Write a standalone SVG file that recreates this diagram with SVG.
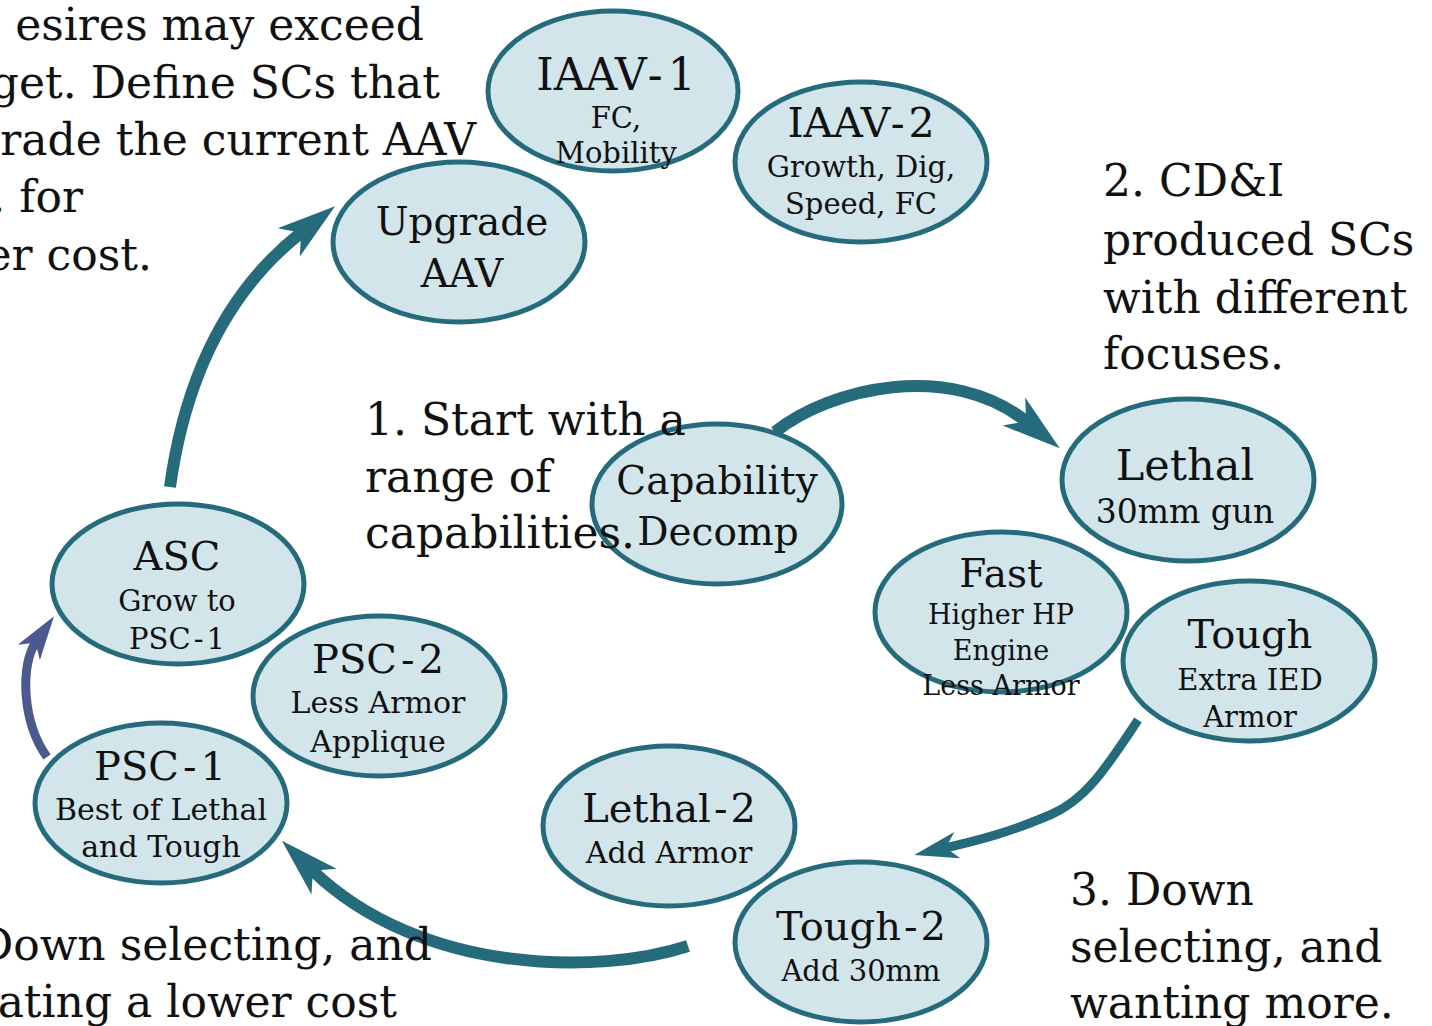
<svg xmlns="http://www.w3.org/2000/svg" width="1432" height="1026" viewBox="0 0 1432 1026">
<defs>
<style>
.node ellipse{fill:#d2e5eb;stroke:#266b7b;stroke-width:5}
text{font-family:"DejaVu Serif","Liberation Serif",serif;fill:#111}
.node text{text-anchor:middle}
.ann{font-size:44px}
.conn{fill:none;stroke:#266b7b;stroke-width:12;marker-end:url(#ah)}
.conn.thin{stroke-width:9}
.conn.blue{stroke:#4a5a8d;marker-end:url(#ahb)}
</style>
<marker id="ah" viewBox="-5 -1.6 5 3.2" refX="-3.5" refY="0" markerWidth="5" markerHeight="3.2" orient="auto" markerUnits="strokeWidth">
<path d="M0,0 L-4.9,-1.5 L-3.6,0 L-4.9,1.5 Z" fill="#266b7b"/>
</marker>
<marker id="ahb" viewBox="-5 -1.6 5 3.2" refX="-3.5" refY="0" markerWidth="5" markerHeight="3.2" orient="auto" markerUnits="strokeWidth">
<path d="M0,0 L-4.9,-1.5 L-3.6,0 L-4.9,1.5 Z" fill="#4a5a8d"/>
</marker>
</defs>
<rect width="1432" height="1026" fill="#ffffff"/>

<g id="connectors">
<path class="conn" d="M775,432 C830,388 950,360 1027,422"/>
<path class="conn thin" d="M1138,720 C1105,770 1085,800 1050,815 C1010,832 980,840 945,848"/>
<path class="conn" d="M688,946 C600,975 420,975 312,870"/>
<path class="conn" d="M170,487 C182,400 215,300 302,232"/>
<path class="conn thin blue" d="M47,757 C22,722 20,665 36,642"/>
</g>

<g id="node-iaav1" class="node">
<ellipse cx="613" cy="91" rx="125" ry="80"/>
<text x="616" y="90" font-size="44">IAAV<tspan dx="5">-</tspan><tspan dx="5">1</tspan></text>
<text x="616" y="128" font-size="29">FC,</text>
<text x="616" y="163" font-size="29">Mobility</text>
</g>

<g id="node-iaav2" class="node">
<ellipse cx="861" cy="162" rx="126" ry="80"/>
<text x="861" y="137" font-size="41">IAAV<tspan dx="4">-</tspan><tspan dx="4">2</tspan></text>
<text x="861" y="177" font-size="29">Growth, Dig,</text>
<text x="861" y="214" font-size="29">Speed, FC</text>
</g>

<g id="node-upgrade" class="node">
<ellipse cx="459" cy="242" rx="126" ry="80"/>
<text x="462" y="235" font-size="39">Upgrade</text>
<text x="462" y="287" font-size="39">AAV</text>
</g>

<g id="node-capability" class="node">
<ellipse cx="717" cy="504" rx="125" ry="80"/>
<text x="717" y="494" font-size="39">Capability</text>
<text x="718" y="545" font-size="39">Decomp</text>
</g>

<g id="node-lethal" class="node">
<ellipse cx="1188" cy="480" rx="126" ry="81"/>
<text x="1185" y="480" font-size="43">Lethal</text>
<text x="1185" y="523" font-size="33">30mm gun</text>
</g>

<g id="node-fast" class="node">
<ellipse cx="1001" cy="612" rx="126" ry="80"/>
<text x="1001" y="587" font-size="39">Fast</text>
<text x="1001" y="624" font-size="27">Higher HP</text>
<text x="1001" y="660" font-size="27">Engine</text>
<text x="1001" y="695" font-size="27">Less Armor</text>
</g>

<g id="node-tough" class="node">
<ellipse cx="1249" cy="661" rx="126" ry="80"/>
<text x="1250" y="648" font-size="40">Tough</text>
<text x="1250" y="690" font-size="29">Extra IED</text>
<text x="1250" y="727" font-size="29">Armor</text>
</g>

<g id="node-asc" class="node">
<ellipse cx="178" cy="584" rx="126" ry="80"/>
<text x="177" y="570" font-size="40">ASC</text>
<text x="177" y="611" font-size="29">Grow to</text>
<text x="177" y="649" font-size="29">PSC<tspan dx="3">-</tspan><tspan dx="3">1</tspan></text>
</g>

<g id="node-psc2" class="node">
<ellipse cx="379" cy="696" rx="126" ry="80"/>
<text x="378" y="673" font-size="40">PSC<tspan dx="4">-</tspan><tspan dx="4">2</tspan></text>
<text x="378" y="713" font-size="30">Less Armor</text>
<text x="378" y="752" font-size="30">Applique</text>
</g>

<g id="node-psc1" class="node">
<ellipse cx="161" cy="803" rx="126" ry="80"/>
<text x="160" y="780" font-size="40">PSC<tspan dx="4">-</tspan><tspan dx="4">1</tspan></text>
<text x="161" y="820" font-size="30">Best of Lethal</text>
<text x="161" y="857" font-size="30">and Tough</text>
</g>

<g id="node-lethal2" class="node">
<ellipse cx="669" cy="826" rx="126" ry="80"/>
<text x="669" y="822" font-size="40">Lethal<tspan dx="3">-</tspan><tspan dx="3">2</tspan></text>
<text x="669" y="863" font-size="30">Add Armor</text>
</g>

<g id="node-tough2" class="node">
<ellipse cx="861" cy="942" rx="126" ry="80"/>
<text x="861" y="940" font-size="40">Tough<tspan dx="3">-</tspan><tspan dx="3">2</tspan></text>
<text x="861" y="981" font-size="29">Add 30mm</text>
</g>

<g id="annotations" class="ann">
<text x="424" y="40" text-anchor="end">esires may exceed</text>
<text x="440" y="98" text-anchor="end">get. Define SCs that</text>
<text x="476" y="155" text-anchor="end">rade the current AAV</text>
<text x="83" y="212" text-anchor="end">. for</text>
<text x="152" y="270" text-anchor="end">er cost.</text>
<text x="1103" y="196">2. CD&amp;I</text>
<text x="1103" y="255">produced SCs</text>
<text x="1103" y="313">with different</text>
<text x="1103" y="369">focuses.</text>
<text x="365" y="435">1. Start with a</text>
<text x="365" y="492">range of</text>
<text x="365" y="548">capabilities.</text>
<text x="1070" y="905">3. Down</text>
<text x="1070" y="962">selecting, and</text>
<text x="1070" y="1018">wanting more.</text>
<text x="432" y="960" text-anchor="end">Down selecting, and</text>
<text x="397" y="1017" text-anchor="end">ating a lower cost</text>
</g>
</svg>
